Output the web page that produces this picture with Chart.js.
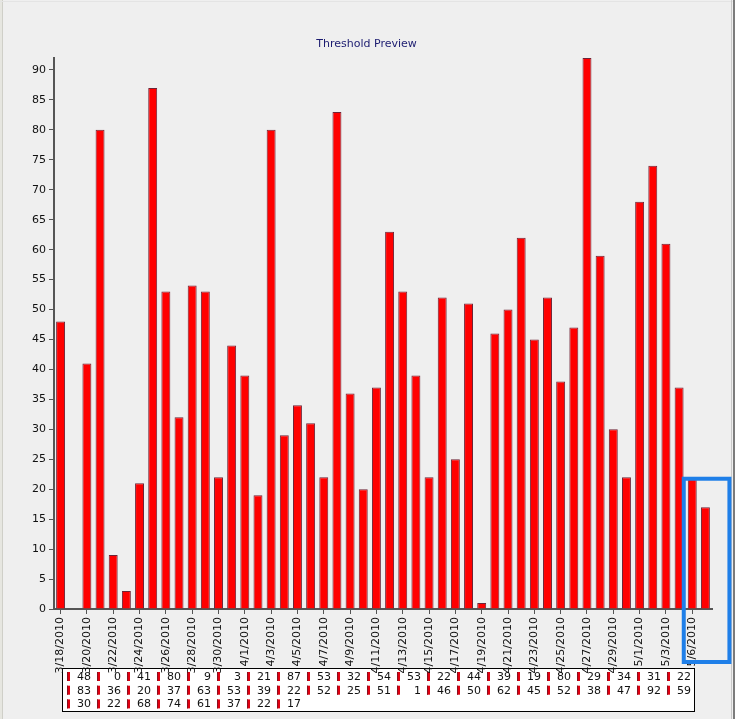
<!DOCTYPE html>
<html><head><meta charset="utf-8">
<script src="https://cdn.jsdelivr.net/npm/chart.js@4.4.1/dist/chart.umd.min.js"></script>
<style>html,body{margin:0;padding:0;background:#efefef;overflow:hidden}#wrap{width:735px;height:719px;position:relative}canvas{display:block}</style>
</head><body><div id="wrap"><canvas id="c" width="735" height="719"></canvas></div>
<script>
const chartTitle = 'Threshold Preview';
const dates = [
  '3/18/2010','3/19/2010','3/20/2010','3/21/2010','3/22/2010','3/23/2010','3/24/2010','3/25/2010','3/26/2010','3/27/2010',
  '3/28/2010','3/29/2010','3/30/2010','3/31/2010','4/1/2010','4/2/2010','4/3/2010','4/4/2010','4/5/2010','4/6/2010',
  '4/7/2010','4/8/2010','4/9/2010','4/10/2010','4/11/2010','4/12/2010','4/13/2010','4/14/2010','4/15/2010','4/16/2010',
  '4/17/2010','4/18/2010','4/19/2010','4/20/2010','4/21/2010','4/22/2010','4/23/2010','4/24/2010','4/25/2010','4/26/2010',
  '4/27/2010','4/28/2010','4/29/2010','4/30/2010','5/1/2010','5/2/2010','5/3/2010','5/4/2010','5/6/2010','5/7/2010'
];
const values = [
  48,0,41,80,9,3,21,87,53,32,54,53,22,44,39,19,80,29,34,31,22,
  83,36,20,37,63,53,39,22,52,25,51,1,46,50,62,45,52,38,47,92,59,
  30,22,68,74,61,37,22,17
];
const yMin = 0, yMax = 92, yStep = 5;
const highlightIndex = 48;

Chart.defaults.font.family = "'DejaVu Sans', Verdana, sans-serif";
Chart.defaults.font.size = 11;

const framePlugin = {
  id: 'frame',
  beforeDraw(chart) {
    const ctx = chart.ctx, W = chart.width, H = chart.height;
    ctx.save();
    ctx.fillStyle = '#efefef';
    ctx.fillRect(0, 0, W, H);
    // page edges
    ctx.fillStyle = '#e6e6e0'; ctx.fillRect(0, 0, 3, H);
    ctx.fillStyle = '#cfcfc8'; ctx.fillRect(2, 0, 1, H);
    ctx.fillStyle = '#e4e4e4'; ctx.fillRect(0, 1, W, 1);
    ctx.fillStyle = '#c8c8c8'; ctx.fillRect(W - 4, 0, 1, H);
    ctx.fillStyle = '#7c7c7c'; ctx.fillRect(W - 2, 0, 2, H);
    // title
    ctx.font = "11px 'DejaVu Sans', Verdana, sans-serif";
    ctx.fillStyle = '#1c1c70';
    ctx.textAlign = 'center'; ctx.textBaseline = 'middle';
    ctx.fillText(chartTitle, W / 2 - 1, 44);
    // value legend box
    const cols = 21, colW = 30, rowH = 13.7;
    const bx = 62.5, by = 668.5, bw = 632, bh = 43;
    ctx.fillStyle = '#ffffff';
    ctx.fillRect(bx, by, bw, bh);
    ctx.strokeStyle = '#000000'; ctx.lineWidth = 1;
    ctx.strokeRect(bx, by, bw, bh);
    ctx.textAlign = 'right';
    values.forEach((v, i) => {
      const c = i % cols, r = Math.floor(i / cols);
      const mx = 68 + c * colW, my = 676.5 + r * rowH;
      ctx.fillStyle = '#e00010';
      ctx.fillRect(mx - 1, my - 4.5, 3, 9);
      ctx.fillStyle = '#8a1020';
      ctx.fillRect(mx - 1, my - 4.5, 1, 9);
      ctx.fillStyle = '#111';
      ctx.fillText(String(v), mx + 23, my + 0.5);
    });
    ctx.restore();
  },
  afterDraw(chart) {
    const ctx = chart.ctx, xs = chart.scales.x, ys = chart.scales.y;
    const left = xs.getPixelForValue(highlightIndex) - 8.5;
    const right = xs.getPixelForValue(highlightIndex + 1) + 24;
    const top = ys.getPixelForValue(values[highlightIndex]) + 1.5;
    const bottom = chart.chartArea.bottom + 53;
    ctx.save();
    ctx.strokeStyle = '#1f7fe8';
    ctx.lineWidth = 4;
    ctx.strokeRect(left, top, right - left, bottom - top);
    ctx.restore();
  }
};

new Chart(document.getElementById('c'), {
  type: 'bar',
  data: {
    labels: dates,
    datasets: [{
      data: values,
      backgroundColor: '#ff0000',
      borderColor: '#6e2436',
      borderWidth: 1,
      barPercentage: 0.68,
      categoryPercentage: 1
    }]
  },
  options: {
    responsive: false,
    animation: false,
    devicePixelRatio: 1,
    layout: { padding: { top: 58, right: 23, bottom: 0, left: 0 } },
    plugins: {
      legend: { display: false },
      tooltip: { enabled: false },
      title: { display: false }
    },
    scales: {
      x: {
        offset: true,
        grid: {
          offset: false, drawOnChartArea: false, drawTicks: true, tickLength: 5,
          color: (c) => (c.index % 2 === 0 ? '#555555' : 'rgba(0,0,0,0)')
        },
        border: { display: true, color: '#555555', width: 2 },
        ticks: {
          autoSkip: false, maxRotation: 90, minRotation: 90, padding: 3, color: '#111',
          callback: function (v, i) { return i % 2 === 0 ? this.getLabelForValue(v) : ''; }
        },
        afterFit: (s) => { s.height = 110; }
      },
      y: {
        min: yMin, max: yMax,
        ticks: { stepSize: yStep, includeBounds: false, padding: 3, color: '#111' },
        grid: { drawOnChartArea: false, drawTicks: true, tickLength: 5, color: '#555555' },
        border: { display: true, color: '#555555', width: 2 },
        afterFit: (s) => { s.width = 54; }
      }
    }
  },
  plugins: [framePlugin]
});
</script>
</body></html>
